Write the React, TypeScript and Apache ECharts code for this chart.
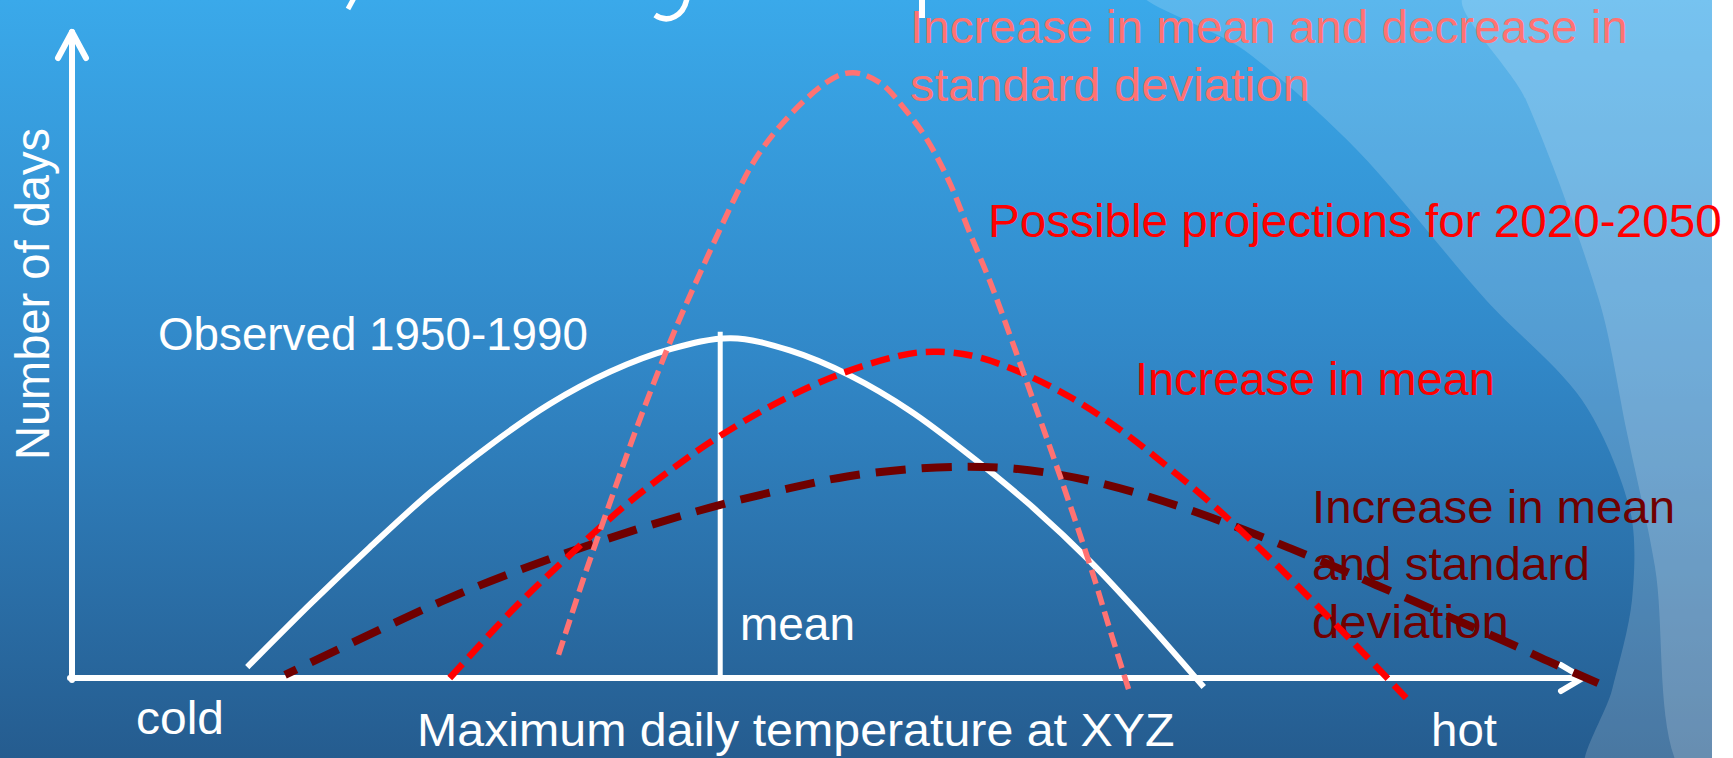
import { useEffect, useRef } from 'react';
import * as echarts from 'echarts';

// ---------- data (x: maximum daily temperature, 0 = cold … 100 = hot; y: number of days) ----------
const observedX = [11.6, 15.8, 19.7, 23.7, 27.7, 31.6, 35.6, 39.6, 43.6, 47.5, 51.5, 55.5, 59.4, 63.4, 67.4, 71.3, 74.9];
const observedY = [1.7, 11.5, 20.2, 28.7, 36.1, 42.4, 47.4, 50.9, 52.6, 50.7, 46.8, 41.3, 34.5, 26.8, 18.0, 8.2, -1.4];

const meanDecSdX = [32.2, 33.9, 35.7, 37.4, 39.2, 40.8, 43.8, 45.5, 47.7, 50.0, 51.7, 53.5, 55.0, 56.6, 58.1, 59.4, 60.8, 62.1, 63.4, 65.4, 67.4, 68.7, 70.0];
const meanDecSdY = [3.6, 15.7, 27.8, 38.9, 49.8, 58.7, 74.0, 81.3, 87.6, 92.3, 93.7, 92.1, 88.4, 83.3, 76.6, 69.0, 61.1, 52.9, 44.4, 31.2, 17.3, 7.4, -2.3];

const meanIncX = [25.0, 29.1, 32.7, 36.5, 39.8, 42.9, 46.9, 51.0, 54.8, 57.3, 59.9, 62.9, 66.2, 69.5, 72.5, 75.6, 78.9, 81.9, 84.5, 87.0, 88.3];
const meanIncY = [0, 10.4, 18.5, 26.5, 32.5, 37.5, 42.9, 47.2, 49.9, 50.5, 49.7, 47.2, 43.3, 38.2, 32.7, 26.6, 19.4, 12.4, 6.2, 0.1, -3.1];

const meanSdIncX = [14.1, 21.2, 25.6, 29.7, 34.5, 38.6, 42.9, 47.5, 51.3, 55.3, 59.1, 62.4, 65.5, 68.5, 71.5, 74.6, 77.6, 80.6, 83.6, 86.3, 88.9, 91.3, 95.2, 97.7, 101.0];
const meanSdIncY = [0.5, 8.4, 13.0, 16.8, 20.8, 23.9, 26.8, 29.4, 31.2, 32.3, 32.7, 32.4, 31.4, 29.9, 27.9, 25.5, 22.9, 20.1, 17.2, 14.4, 11.8, 9.3, 5.3, 2.6, -0.8];

const meanX = 42.9;
const meanTop = 53.6;

const axisMin = 0;
const axisMax = 100;

// ---------- style ----------
const W = 1733;
const H = 758;
const PINK = '#ff7272';
const RED = '#ff0000';
const DARK = '#700000';
const WHITE = '#ffffff';
const FAMILY = '"Liberation Sans", Arial, sans-serif';

const LABELS = [
  { text: 'Increase in mean and decrease in', x: 910, y: 27, w: 718, size: 46, color: PINK },
  { text: 'standard deviation', x: 910, y: 85, w: 400, size: 46, color: PINK },
  { text: 'Possible projections for 2020-2050', x: 988, y: 221, w: 734, size: 46, color: RED },
  { text: 'Observed 1950-1990', x: 158, y: 334, w: 430, size: 46, color: WHITE },
  { text: 'Increase in mean', x: 1135, y: 379, w: 360, size: 46, color: RED },
  { text: 'Increase in mean', x: 1312, y: 507, w: 363, size: 46, color: DARK },
  { text: 'and standard', x: 1312, y: 564, w: 278, size: 46, color: DARK },
  { text: 'deviation', x: 1312, y: 622, w: 197, size: 46, color: DARK },
  { text: 'mean', x: 740, y: 624, w: 115, size: 46, color: WHITE },
  { text: 'cold', x: 136, y: 718, w: 88, size: 46, color: WHITE },
  { text: 'Maximum daily temperature at XYZ', x: 417, y: 730, w: 758, size: 46, color: WHITE },
  { text: 'hot', x: 1431, y: 730, w: 66, size: 46, color: WHITE },
];
const Y_TITLE = { text: 'Number of days', cx: 32, cy: 294, w: 332, size: 48 };

let measureCtx: CanvasRenderingContext2D | null = null;
function textWidth(text: string, size: number): number {
  if (!measureCtx) measureCtx = document.createElement('canvas').getContext('2d');
  if (!measureCtx) return text.length * size * 0.5;
  measureCtx.font = `${size}px ${FAMILY}`;
  return measureCtx.measureText(text).width;
}

function pairs(xs: number[], ys: number[]) {
  return xs.map((x, i) => [x, ys[i]]);
}

type Pt = number[];
function bez(p0: Pt, c1: Pt, c2: Pt, p1: Pt, t: number): Pt {
  const u = 1 - t;
  return [
    u * u * u * p0[0] + 3 * u * u * t * c1[0] + 3 * u * t * t * c2[0] + t * t * t * p1[0],
    u * u * u * p0[1] + 3 * u * u * t * c1[1] + 3 * u * t * t * c2[1] + t * t * t * p1[1],
  ];
}

// smooth curve drawn through the data points (Catmull-Rom), positioned by the chart's own axes
function curveSeries(
  name: string,
  xs: number[],
  ys: number[],
  color: string,
  width: number,
  dash: number[] | null,
  z: number,
  alignEnd = false,
) {
  return {
    type: 'custom',
    name,
    data: pairs(xs, ys),
    silent: true,
    z,
    renderItem: (params: any, api: any) => {
      if (params.dataIndex !== 0) return null;
      const pts: Pt[] = xs.map((x, i) => api.coord([x, ys[i]]));
      let d = `M${pts[0][0]},${pts[0][1]}`;
      let len = 0;
      for (let i = 0; i < pts.length - 1; i++) {
        const p0 = pts[i - 1] || pts[i];
        const p1 = pts[i];
        const p2 = pts[i + 1];
        const p3 = pts[i + 2] || pts[i + 1];
        const c1 = [p1[0] + (p2[0] - p0[0]) / 6, p1[1] + (p2[1] - p0[1]) / 6];
        const c2 = [p2[0] - (p3[0] - p1[0]) / 6, p2[1] - (p3[1] - p1[1]) / 6];
        d += ` C${c1[0]},${c1[1]} ${c2[0]},${c2[1]} ${p2[0]},${p2[1]}`;
        let prev = p1;
        for (let k = 1; k <= 20; k++) {
          const q = bez(p1, c1, c2, p2, k / 20);
          len += Math.hypot(q[0] - prev[0], q[1] - prev[1]);
          prev = q;
        }
      }
      const style: any = { stroke: color, lineWidth: width, fill: 'none', lineCap: 'butt', lineJoin: 'round' };
      if (dash) {
        style.lineDash = dash;
        if (alignEnd) {
          const period = dash[0] + dash[1];
          style.lineDashOffset = (((dash[0] * 0.92 - len) % period) + period) % period;
        }
      }
      return { type: 'path', shape: { pathData: d }, style };
    },
  };
}

export default function App() {
  const ref = useRef<HTMLDivElement>(null);

  useEffect(() => {
    document.body.style.margin = '0';
    const el = ref.current;
    if (!el) return;
    const chart = echarts.init(el, undefined, { renderer: 'svg' });

    chart.setOption({
      animation: false,
      grid: { left: 72, right: 150, top: 32, bottom: 80 },
      xAxis: { type: 'value', min: axisMin, max: axisMax, show: false },
      yAxis: { type: 'value', min: axisMin, max: axisMax, show: false },
      series: [
        curveSeries('Observed 1950-1990', observedX, observedY, WHITE, 6, null, 3),
        {
          type: 'line',
          name: 'mean',
          data: [[meanX, 0], [meanX, meanTop]],
          symbol: 'none',
          clip: false,
          silent: true,
          z: 3,
          lineStyle: { color: WHITE, width: 5, cap: 'butt' },
        },
        curveSeries('Increase in mean and standard deviation', meanSdIncX, meanSdIncY, DARK, 8, [30, 16], 4, true),
        curveSeries('Increase in mean', meanIncX, meanIncY, RED, 6.5, [19, 9], 5),
        curveSeries('Increase in mean and decrease in standard deviation', meanDecSdX, meanDecSdY, PINK, 5.5, [15, 7], 6),
      ],
    });

    const px = (x: number, y: number) => chart.convertToPixel({ gridIndex: 0 }, [x, y]) as number[];
    const o = px(axisMin, 0);
    const xe = px(axisMax, 0);
    const ye = px(axisMin, axisMax);

    const axisStyle = { stroke: WHITE, lineWidth: 6, lineCap: 'round', lineJoin: 'round', fill: null };

    const elements: any[] = [
      // background swooshes
      {
        type: 'polygon',
        z: 0,
        silent: true,
        shape: {
          points: [[1148, -5], [1244, 50], [1357, 150], [1486, 300], [1582, 400], [1630, 510], [1632, 600], [1612, 690], [1588, 775], [1800, 775], [1800, -5]],
          smooth: 0.3,
        },
        style: { fill: 'rgba(255,255,255,0.17)' },
      },
      {
        type: 'polygon',
        z: 0,
        silent: true,
        shape: {
          points: [[1466, -5], [1526, 100], [1599, 300], [1627, 433], [1655, 567], [1683, 775], [1800, 775], [1800, -5]],
          smooth: 0.3,
        },
        style: { fill: 'rgba(255,255,255,0.17)' },
      },
      { type: 'rect', z: 0, silent: true, shape: { x: 1712, y: 0, width: 40, height: H }, style: { fill: '#ffffff' } },
      // clipped title fragments at the top edge
      { type: 'line', z: 1, silent: true, shape: { x1: 354, y1: -2, x2: 348, y2: 9 }, style: { stroke: WHITE, lineWidth: 5 } },
      {
        type: 'bezierCurve',
        z: 1,
        silent: true,
        shape: { x1: 687, y1: -2, x2: 655, y2: 15, cpx1: 684, cpy1: 16, cpx2: 668, cpy2: 24 },
        style: { stroke: WHITE, lineWidth: 5.5, fill: null },
      },
      { type: 'rect', z: 1, silent: true, shape: { x: 919, y: 0, width: 6, height: 18 }, style: { fill: WHITE } },
      // axes with open arrow heads
      { type: 'polyline', z: 1, silent: true, shape: { points: [[o[0], o[1] + 2], [ye[0], ye[1]]] }, style: axisStyle },
      { type: 'polyline', z: 1, silent: true, shape: { points: [[ye[0] - 14, ye[1] + 26], [ye[0], ye[1]], [ye[0] + 14, ye[1] + 26]] }, style: axisStyle },
      { type: 'polyline', z: 1, silent: true, shape: { points: [[o[0] - 2, o[1]], [xe[0], xe[1]]] }, style: axisStyle },
      { type: 'polyline', z: 1, silent: true, shape: { points: [[xe[0] - 22, xe[1] - 13], [xe[0], xe[1]], [xe[0] - 22, xe[1] + 13]] }, style: axisStyle },
    ];

    LABELS.forEach((l) => {
      const sx = l.w / textWidth(l.text, l.size);
      elements.push({
        type: 'text',
        z: 1,
        silent: true,
        x: l.x,
        y: l.y,
        scaleX: sx,
        style: {
          text: l.text,
          fill: l.color,
          font: `${l.size}px ${FAMILY}`,
          textAlign: 'left',
          textVerticalAlign: 'middle',
          align: 'left',
          verticalAlign: 'middle',
        },
      });
    });

    const ysx = Y_TITLE.w / textWidth(Y_TITLE.text, Y_TITLE.size);
    elements.push({
      type: 'text',
      z: 1,
      silent: true,
      x: Y_TITLE.cx,
      y: Y_TITLE.cy,
      rotation: Math.PI / 2,
      scaleX: ysx,
      style: {
        text: Y_TITLE.text,
        fill: WHITE,
        font: `${Y_TITLE.size}px ${FAMILY}`,
        textAlign: 'center',
        textVerticalAlign: 'middle',
        align: 'center',
        verticalAlign: 'middle',
      },
    });

    chart.setOption({ graphic: { elements } });

    return () => chart.dispose();
  }, []);

  return (
    <div
      ref={ref}
      style={{
        position: 'fixed',
        left: 0,
        top: 0,
        width: W,
        height: H,
        background: 'linear-gradient(to bottom, #3aa9ea 0%, #3187c7 48%, #255c8f 100%)',
      }}
    />
  );
}
